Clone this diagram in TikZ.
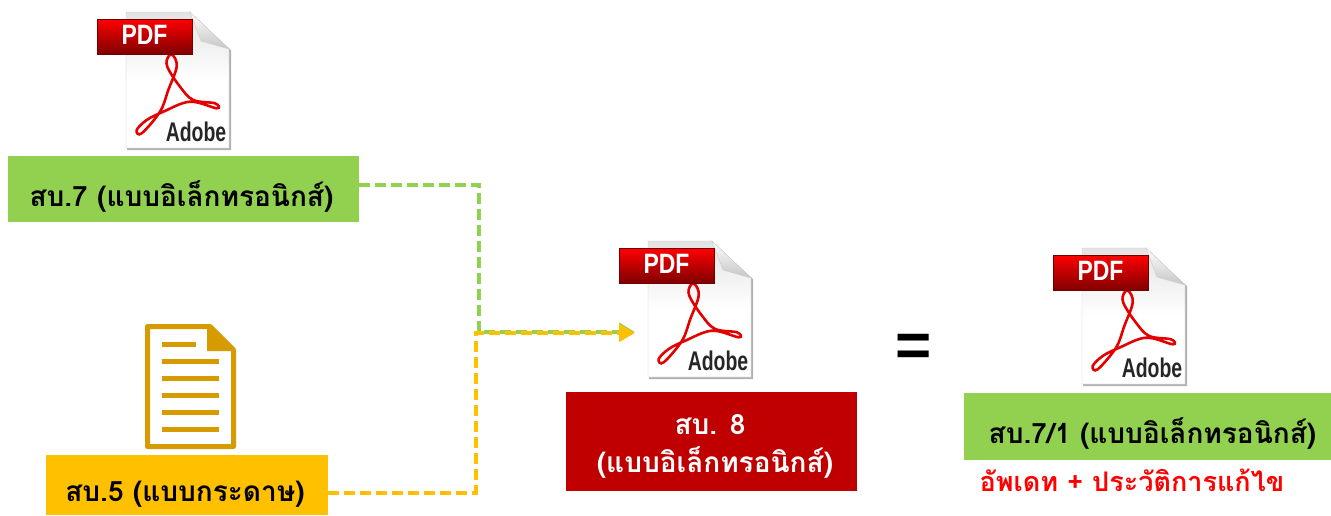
\documentclass[tikz,border=0pt]{standalone}
\usepackage{fontspec}
\setmainfont{Liberation Sans}
\newfontfamily\thaifont[Script=Thai]{Loma}
\usetikzlibrary{arrows.meta}
\definecolor{boxgreen}{HTML}{92D050}
\definecolor{boxorange}{HTML}{FFC000}
\definecolor{boxred}{HTML}{C00000}
\definecolor{docgold}{HTML}{D59B00}
\newcommand{\lowered}[2]{\raisebox{#1}[0pt][0pt]{#2}}
\tikzset{
  labelbox/.style={minimum height=#1,inner sep=0pt,font=\thaifont\bfseries\fontsize{28}{38}\selectfont},
  greenline/.style={boxgreen,line width=4pt,dash pattern=on 11pt off 5pt},
  orangeline/.style={boxorange,line width=4pt,dash pattern=on 11pt off 5pt},
  docline/.style={docgold,line width=5pt},
  pdfpage/.pic={
    \fill[gray!60] (1,1) -- (64,1) -- (105,38) -- (105,138) -- (1,138) -- cycle;
    \shade[top color=gray!22,bottom color=white,middle color=white,draw=gray!45] (0,0) -- (64,0) -- (103,37) -- (103,136) -- (0,136) -- cycle;
    \shade[top color=white,bottom color=gray!45,draw=gray!40] (64,0) -- (103,37) -- (75,29) -- cycle;
    \draw[red!90!black,line width=2.6pt] plot[smooth cycle,tension=.6] coordinates {(46.7,43) (50.7,54.7) (42.3,78) (34,99.7) (15.7,121.3) (10.7,118) (20.7,108) (37.3,99.7) (64,89.7) (90.7,96.3) (89,91.3) (67.3,88) (54,74.7) (41.3,54.7) (42.3,44.7)};
    \shade[top color=red,bottom color=red!50!black,draw=red!45!black] (-29,7) rectangle (66,42);
    \node[text=white,font=\bfseries\fontsize{28}{28}\selectfont,inner sep=0pt,xscale=.82] (pdftext) at (18.5,23) {PDF};
    \node[text=black!85,font=\bfseries\fontsize{27}{27}\selectfont,inner sep=0pt,xscale=.72] (adobetext) at (70,120) {Adobe};
  }
}
\begin{document}
\begin{tikzpicture}[x=1pt,y=-1pt]
\useasboundingbox (0,0) rectangle (1331,515);
\pic (pdfA) at (126,12) {pdfpage};
\pic (pdfB) at (648,241) {pdfpage};
\pic (pdfC) at (1082,248) {pdfpage};
\node[labelbox=66pt,minimum width=351pt,fill=boxgreen] (sbseven) at (183.5,189) {\hspace*{-4pt}\lowered{-17pt}{สบ.7 (แบบอิเล็กทรอนิกส์)}};
\node[labelbox=60pt,minimum width=282pt,fill=boxorange] (sbfive) at (187,485) {\hspace*{-4pt}\lowered{-16pt}{สบ.5 (แบบกระดาษ)}};
\node[labelbox=99pt,minimum width=291pt,fill=boxred,text=white,align=center] (sbeight) at (711.5,441.5) {\hspace*{-3pt}\rule{0pt}{29pt}สบ. 8\\\hspace*{7pt}(แบบอิเล็กทรอนิกส์)};
\node[labelbox=67pt,minimum width=367pt,fill=boxgreen] (sbsevenone) at (1147.5,426.5) {\hspace*{10pt}\lowered{-16.5pt}{สบ.7/1 (แบบอิเล็กทรอนิกส์)}};
\node[text=red,inner sep=0pt,font=\thaifont\bfseries\fontsize{27}{31}\selectfont] (update) at (1132,480) {อัพเดท + ประวัติการแก้ไข};
\node[inner sep=0pt,font=\bfseries\fontsize{62}{62}\selectfont] (equal) at (914,350) {=};
\draw[docline,line join=round,fill=white] (147.5,326.5) -- (210,326.5) -- (233.5,350) -- (233.5,446.5) -- (147.5,446.5) -- cycle;
\fill[docgold] (207,326) -- (211,326) -- (236,351) -- (207,351) -- cycle;
\foreach \liney/\lineend in {344/196,361/218.5,378/218.5,395/218.5,412/218.5,429/218.5}
  \draw[docline] (162,\liney) -- (\lineend,\liney);
\coordinate (joingreen) at (479,332);
\coordinate (joinorange) at (476,333);
\coordinate (arrowend) at (635,332.5);
\draw[greenline,-{Triangle[length=16pt,width=18pt]}] ([yshift=4.5pt]sbseven.east) -| (joingreen) -- (joingreen -| arrowend);
\draw[orangeline,-{Triangle[length=16pt,width=17pt]}] ([yshift=-7.5pt]sbfive.east) -| (joinorange) -- (joinorange -| arrowend);
\end{tikzpicture}
\end{document}
